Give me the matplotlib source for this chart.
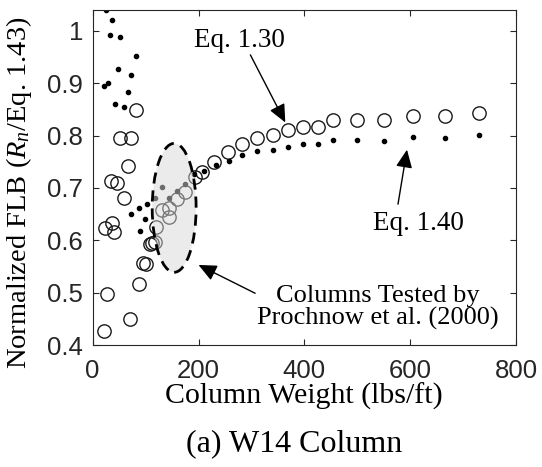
import matplotlib
matplotlib.use("Agg")
import matplotlib.pyplot as plt
from matplotlib.patches import Ellipse

# ---- DATA ----
# Eq. 1.30 -> open circles
eq130_w = [21, 28, 24, 36, 41, 35, 46, 59, 66, 52, 73, 81, 71, 88, 96, 101,
           108, 112, 118, 120, 131, 145, 145, 159, 175, 194, 207, 230, 256,
           282, 311, 341, 370, 398, 426, 455, 500, 550, 605, 665, 731]
eq130_r = [0.427, 0.497, 0.623, 0.634, 0.615, 0.714, 0.709, 0.681, 0.742,
           0.796, 0.796, 0.848, 0.449, 0.516, 0.556, 0.554, 0.593, 0.594,
           0.596, 0.625, 0.658, 0.661, 0.645, 0.678, 0.693, 0.720, 0.731,
           0.750, 0.768, 0.784, 0.795, 0.801, 0.810, 0.817, 0.816, 0.829,
           0.829, 0.830, 0.838, 0.838, 0.843]

# Eq. 1.40 -> small dots
eq140_w = [25, 36, 33, 52, 81, 47, 73, 29, 21, 67, 42, 60, 73, 88, 98, 90,
           102, 117, 131, 145, 159, 175, 192, 211, 233, 257, 283, 311, 341,
           370, 398, 426, 455, 500, 550, 605, 665, 731]
eq140_r = [1.04, 1.02, 0.991, 0.988, 0.951, 0.927, 0.915, 0.901, 0.894,
           0.884, 0.861, 0.855, 0.650, 0.662, 0.641, 0.618, 0.669, 0.680,
           0.701, 0.680, 0.694, 0.707, 0.726, 0.732, 0.743, 0.752, 0.763,
           0.770, 0.773, 0.778, 0.784, 0.783, 0.792, 0.791, 0.790, 0.797,
           0.796, 0.801]

x_ticks = [0, 200, 400, 600, 800]
y_ticks = [0.4, 0.5, 0.6, 0.7, 0.8, 0.9, 1.0]
y_tick_labels = ["0.4", "0.5", "0.6", "0.7", "0.8", "0.9", "1"]

# Prochnow et al. (2000) tested region
tested_center = (154, 0.662)
tested_width = 83
tested_height = 0.246

SERIF = "Liberation Serif"
SANS = "Liberation Sans"
AXCOL = "#262626"

plt.rcParams["mathtext.fontset"] = "custom"
plt.rcParams["mathtext.rm"] = SERIF
plt.rcParams["mathtext.it"] = SERIF + ":italic"

# ---- PLOT ----
fig = plt.figure(figsize=(5.42, 4.67), dpi=100)
ax = fig.add_axes([0.171, 0.261, 0.781, 0.718])

ax.plot(eq130_w, eq130_r, linestyle="none", marker="o", markersize=9.6,
        markerfacecolor="none", markeredgecolor="#1a1a1a",
        markeredgewidth=1.0, zorder=2)
ax.plot(eq140_w, eq140_r, linestyle="none", marker="o", markersize=3.0,
        color="black", zorder=2)

ell = Ellipse(tested_center, tested_width, tested_height,
              facecolor=(0.85, 0.85, 0.85, 0.5), edgecolor="black",
              linewidth=2.0, linestyle=(0, (4, 2.5)), zorder=3)
ax.add_patch(ell)

ax.set_xlim(0, 800)
ax.set_ylim(0.4, 1.04)
ax.set_xticks(x_ticks)
ax.set_yticks(y_ticks)
ax.set_yticklabels(y_tick_labels)

ax.tick_params(direction="in", top=True, right=True, length=4,
               width=0.8, colors=AXCOL, labelsize=18.5)
ax.tick_params(axis="x", pad=10)
ax.tick_params(axis="y", pad=7)
for lab in ax.get_xticklabels() + ax.get_yticklabels():
    lab.set_fontfamily(SANS)
for sp in ax.spines.values():
    sp.set_color(AXCOL)
    sp.set_linewidth(0.8)

ax.set_xlabel("Column Weight (lbs/ft)", fontfamily=SERIF, fontsize=21.5,
              labelpad=0)
ax.set_ylabel("Normalized FLB ($R_n$/Eq. 1.43)", fontfamily=SERIF,
              fontsize=20.5)
ax.yaxis.set_label_coords(-0.138, 0.455)

# ---- ANNOTATIONS ----
arrow = dict(arrowstyle="-|>,head_length=0.55,head_width=0.25",
             color="black", lw=1.0, mutation_scale=20, shrinkA=0, shrinkB=0)

ax.annotate("", xy=(364, 0.825), xytext=(298, 0.954), arrowprops=arrow,
            zorder=5)
ax.text(277, 0.981, "Eq. 1.30", fontfamily=SERIF, fontsize=19.5,
        ha="center", va="center")

ax.annotate("", xy=(594, 0.773), xytext=(577, 0.669), arrowprops=arrow,
            zorder=5)
ax.text(615, 0.633, "Eq. 1.40", fontfamily=SERIF, fontsize=19.5,
        ha="center", va="center")

ax.annotate("", xy=(200, 0.553), xytext=(307, 0.499), arrowprops=arrow,
            zorder=5)
ax.text(538, 0.472, "Columns Tested by\nProchnow et al. (2000)",
        fontfamily=SERIF, fontsize=19, ha="center", va="center",
        linespacing=1.0)

fig.text(0.543, 0.05, "(a) W14 Column", fontfamily=SERIF, fontsize=23,
         ha="center", va="center")

fig.savefig("out.png", dpi=100)
